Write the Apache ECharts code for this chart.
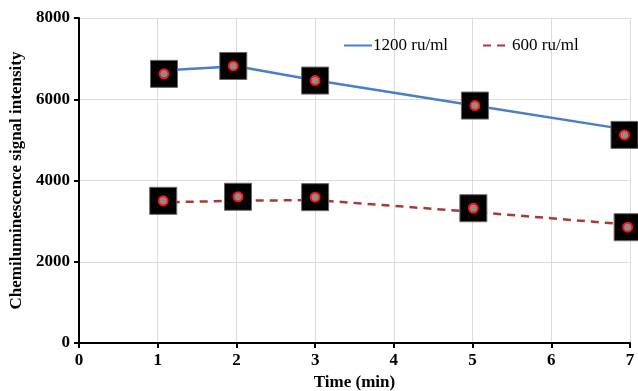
<!DOCTYPE html>
<html><head><meta charset="utf-8">
<script src="https://cdn.jsdelivr.net/npm/echarts@6/dist/echarts.min.js"></script>
<style>html,body{margin:0;padding:0;background:#fff}#c{width:638px;height:391px}</style>
</head><body><div id="c"></div>
<script>
const seriesNames = ['1200 ru/ml', '600 ru/ml'];
// line vertices [time, intensity]
const line1200 = [[1, 6700], [2, 6810], [3, 6470], [5, 5850], [7, 5240]];
const line600 = [[1, 3460], [2, 3500], [3, 3520], [5, 3230], [7, 2910]];
// marker positions as drawn [time, intensity]
const marks1200 = [[1.08, 6625], [1.96, 6820], [3.0, 6460], [5.03, 5845], [6.93, 5123]];
const marks600 = [[1.07, 3500], [2.02, 3600], [3.0, 3590], [5.01, 3317], [6.97, 2850]];
const xTicks = [0, 1, 2, 3, 4, 5, 6, 7];
const yTicks = [0, 2000, 4000, 6000, 8000];

const font = '"Liberation Serif", "Times New Roman", serif';
function markerSeries(data) {
  return [
    {type: 'scatter', data: data, symbol: 'rect', symbolSize: 27, z: 5,
     itemStyle: {color: '#000', borderColor: '#666', borderWidth: 1, opacity: 1}, silent: true},
    {type: 'scatter', data: data, symbol: 'circle', symbolSize: 9, z: 6,
     itemStyle: {color: '#8c8c8c', borderColor: '#ff1010', borderWidth: 2, opacity: 1}, silent: true}
  ];
}
const chart = echarts.init(document.getElementById('c'));
chart.setOption({
  animation: false,
  backgroundColor: '#fff',
  grid: {left: 79, right: 8, top: 18, bottom: 48, containLabel: false, outerBoundsMode: 'none'},
  legend: {
    data: seriesNames, top: 32, left: 338, itemGap: 34, itemWidth: 28, itemHeight: 10,
    itemStyle: {opacity: 0},
    textStyle: {fontFamily: font, fontSize: 17, color: '#000', padding: [0, 0, 0, -4]}
  },
  xAxis: {
    type: 'value', min: xTicks[0], max: xTicks[xTicks.length - 1], interval: 1,
    name: 'Time (min)', nameLocation: 'middle', nameGap: 30,
    nameTextStyle: {fontFamily: font, fontSize: 17, fontWeight: 'bold', color: '#000'},
    axisLine: {lineStyle: {color: '#000', width: 2}},
    axisTick: {show: true, length: 5, lineStyle: {color: '#000', width: 2}},
    axisLabel: {fontFamily: font, fontSize: 17, fontWeight: 'bold', color: '#000', margin: 9},
    splitLine: {show: true, lineStyle: {color: '#dcdcdc', width: 1}}
  },
  yAxis: {
    type: 'value', min: yTicks[0], max: yTicks[yTicks.length - 1], interval: 2000,
    name: 'Chemiluminescence signal intensity', nameLocation: 'middle', nameGap: 53,
    nameTextStyle: {fontFamily: font, fontSize: 17, fontWeight: 'bold', color: '#000'},
    axisLine: {show: true, lineStyle: {color: '#000', width: 2}},
    axisTick: {show: true, length: 5, lineStyle: {color: '#000', width: 2}},
    axisLabel: {fontFamily: font, fontSize: 17, fontWeight: 'bold', color: '#000', margin: 9,
                formatter: v => String(v)},
    splitLine: {show: true, lineStyle: {color: '#dcdcdc', width: 1}}
  },
  series: [
    {name: seriesNames[0], type: 'line', data: line1200, showSymbol: false, symbol: 'none',
     lineStyle: {color: '#4a7fc4', width: 2.5}, itemStyle: {color: '#4a7fc4'}, z: 3},
    {name: seriesNames[1], type: 'line', data: line600, showSymbol: false, symbol: 'none',
     lineStyle: {color: '#a83a36', width: 2.5, type: [8, 6]}, itemStyle: {color: '#a83a36'}, z: 3},
    ...markerSeries(marks1200),
    ...markerSeries(marks600)
  ]
});
</script></body></html>
